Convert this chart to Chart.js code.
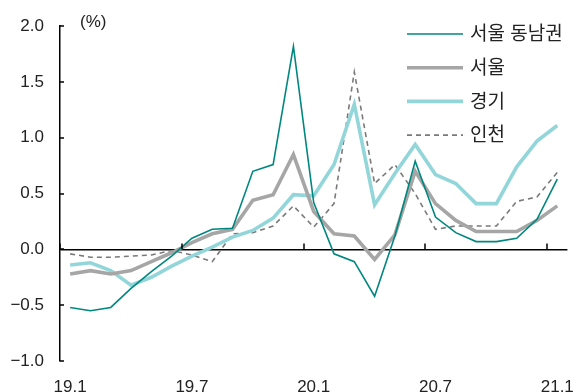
<!DOCTYPE html>
<html>
<head>
<meta charset="utf-8">
<script src="https://cdn.jsdelivr.net/npm/chart.js@4"></script>
<style>
  body { margin: 0; background: #fff; }
</style>
</head>
<body>
<canvas id="priceChart" width="582" height="392"></canvas>
<script>
const FONT = "'Liberation Sans', 'Noto Sans CJK KR', sans-serif";

const months = ['19.1', '19.2', '19.3', '19.4', '19.5', '19.6', '19.7', '19.8', '19.9', '19.10', '19.11', '19.12',
    '20.1', '20.2', '20.3', '20.4', '20.5', '20.6', '20.7', '20.8', '20.9', '20.10', '20.11', '20.12', '21.1'];

const seoulSoutheast = [-0.52, -0.55, -0.52, -0.35, -0.20, -0.06, 0.10, 0.18, 0.19, 0.70, 0.76, 1.82,
    0.42, -0.04, -0.11, -0.42, 0.12, 0.79, 0.29, 0.15, 0.07, 0.07, 0.10, 0.27, 0.63];
const seoul = [-0.22, -0.19, -0.22, -0.19, -0.11, -0.03, 0.06, 0.14, 0.18, 0.44, 0.49, 0.85,
    0.34, 0.14, 0.12, -0.09, 0.13, 0.70, 0.41, 0.26, 0.16, 0.16, 0.16, 0.26, 0.39];
const gyeonggi = [-0.14, -0.12, -0.19, -0.32, -0.25, -0.15, -0.06, 0.02, 0.11, 0.17, 0.28, 0.49,
    0.48, 0.76, 1.30, 0.40, 0.68, 0.94, 0.67, 0.59, 0.41, 0.41, 0.74, 0.97, 1.11];
const incheon = [-0.04, -0.07, -0.07, -0.06, -0.05, -0.01, -0.05, -0.11, 0.14, 0.15, 0.21, 0.39,
    0.20, 0.41, 1.59, 0.59, 0.76, 0.50, 0.18, 0.21, 0.21, 0.21, 0.43, 0.47, 0.69];

const yTicks = [-1.0, -0.5, 0.0, 0.5, 1.0, 1.5, 2.0];
const seriesNames = ['서울 동남권', '서울', '경기', '인천'];

// inner tick marks on both axes, the unit label and the legend box
const axisExtras = {
    id: 'axisExtras',
    afterDraw(chart) {
        const { ctx, scales: { x, y } } = chart;
        ctx.save();
        ctx.strokeStyle = '#000';
        ctx.lineWidth = 1.5;
        ctx.beginPath();
        y.ticks.forEach(t => {
            const py = Math.round(y.getPixelForValue(t.value));
            ctx.moveTo(y.right, py);
            ctx.lineTo(y.right + 4, py);
        });
        const zero = y.getPixelForValue(0);
        for (let i = 0; i < months.length; i += 6) {
            const px = Math.round((x.getPixelForValue(i - 1) + x.getPixelForValue(i)) / 2);
            ctx.moveTo(px, zero);
            ctx.lineTo(px, zero - 6);
        }
        ctx.stroke();

        ctx.fillStyle = '#222';
        ctx.font = '17px ' + FONT;
        ctx.textBaseline = 'middle';
        ctx.textAlign = 'left';
        ctx.fillText('(%)', 80, 22);

        // legend
        ctx.font = '19px ' + FONT;
        chart.data.datasets.forEach((ds, i) => {
            const ly = 34 + i * 33.7;
            ctx.beginPath();
            ctx.strokeStyle = ds.borderColor;
            ctx.lineWidth = ds.borderWidth;
            ctx.setLineDash(ds.borderDash || []);
            ctx.moveTo(407, ly);
            ctx.lineTo(463, ly);
            ctx.stroke();
            ctx.setLineDash([]);
            ctx.fillText(ds.label, 470, ly + 1);
        });
        ctx.restore();
    }
};

new Chart(document.getElementById('priceChart'), {
    type: 'line',
    data: {
        labels: months,
        datasets: [
            { label: seriesNames[0], data: seoulSoutheast, borderColor: '#00877f', borderWidth: 1.6 },
            { label: seriesNames[1], data: seoul, borderColor: '#a6a6a6', borderWidth: 3.6 },
            { label: seriesNames[2], data: gyeonggi, borderColor: '#93d6da', borderWidth: 3.6 },
            { label: seriesNames[3], data: incheon, borderColor: '#7a7a7a', borderWidth: 1.6, borderDash: [5, 4] }
        ]
    },
    options: {
        responsive: false,
        animation: false,
        layout: { padding: { top: 25, right: 9, left: 0, bottom: 0 } },
        elements: {
            point: { radius: 0 },
            line: { tension: 0, borderJoinStyle: 'miter' }
        },
        plugins: {
            legend: { display: false },
            tooltip: { enabled: false }
        },
        scales: {
            x: {
                offset: true,
                grid: { display: false },
                border: { display: false },
                afterFit(scale) { scale.height = 31; },
                ticks: {
                    autoSkip: false,
                    maxRotation: 0,
                    padding: 8,
                    color: '#222',
                    font: { family: FONT, size: 17 },
                    callback: (v, i) => (i % 6 === 0 ? months[i] : '')
                }
            },
            y: {
                min: -1,
                max: 2,
                afterBuildTicks(scale) { scale.ticks = yTicks.map(v => ({ value: v })); },
                afterFit(scale) { scale.width = 60; },
                border: { display: true, color: '#000', width: 1.5 },
                grid: {
                    drawTicks: false,
                    color: ctx => (ctx.tick && ctx.tick.value === 0 ? '#000' : 'rgba(0,0,0,0)'),
                    lineWidth: 1.5
                },
                ticks: {
                    padding: 16,
                    color: '#222',
                    font: { family: FONT, size: 17 },
                    callback: v => (v < 0 ? '\u2212' + Math.abs(v).toFixed(1) : v.toFixed(1))
                }
            }
        }
    },
    plugins: [axisExtras]
});
</script>
</body>
</html>
